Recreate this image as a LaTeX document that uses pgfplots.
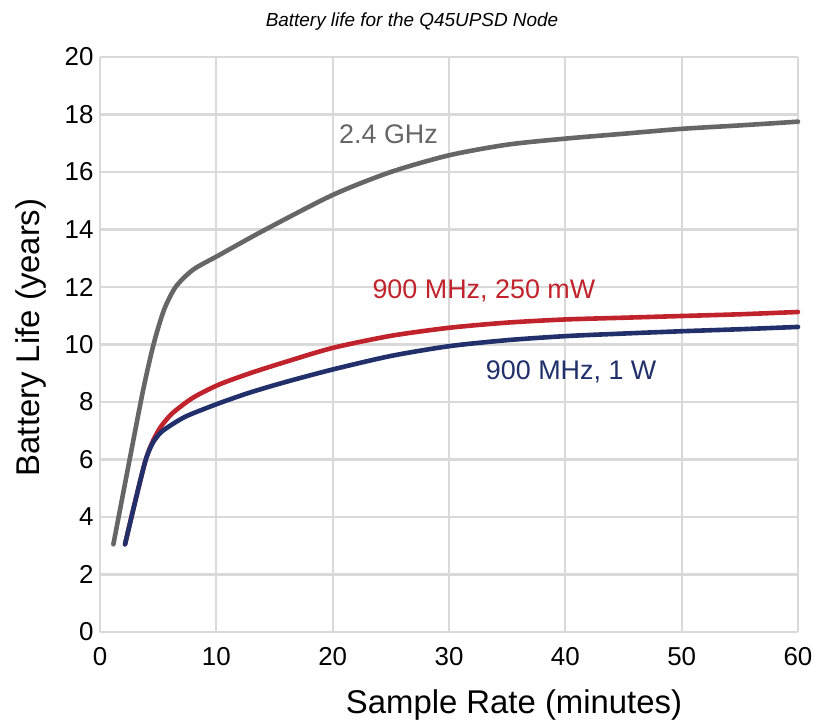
\documentclass[border=0pt]{standalone}
\usepackage{pgfplots}
\pgfplotsset{compat=1.18}
\usepackage{fontspec}
\setmainfont{Liberation Sans}

\definecolor{gridgray}{HTML}{D9D9D9}
\definecolor{ghz}{HTML}{666666}
\definecolor{mwred}{HTML}{C0232C}
\definecolor{wnavy}{HTML}{21306B}

\begin{document}
\begin{tikzpicture}
\begin{axis}[
	scale only axis,
	width=698bp, height=575bp,
	xmin=0, xmax=60, ymin=0, ymax=20,
	xtick={0,10,...,60}, ytick={0,2,...,20},
	grid=major,
	major grid style={draw=gridgray, line width=2.2bp},
	axis line style={draw=gridgray, line width=2.2bp},
	axis x line*=bottom, axis y line*=left,
	tick style={draw=none},
	ticklabel style={font=\fontsize{26}{30}\selectfont},
	/pgf/number format/assume math mode=true,
	xticklabel style={yshift=-12bp},
	yticklabel style={xshift=-3bp},
	xlabel={Sample Rate (minutes)},
	ylabel={Battery Life (years)},
	xlabel style={font=\fontsize{33}{38}\selectfont, yshift=-17bp, xshift=65bp},
	ylabel style={font=\fontsize{33}{38}\selectfont, yshift=12bp, xshift=7bp},
	title={\itshape Battery life for the Q45UPSD Node},
	title style={font=\fontsize{19}{22}\selectfont, yshift=17bp, xshift=-37bp},
	clip=false,
	every axis plot/.append style={line width=4.6bp, smooth, tension=0.45, line cap=round},
]

% 2.4 GHz
\addplot[color=ghz] coordinates {
(1.15,3.05) (2.5,5.9) (3.7,8.4) (4.6,10.0) (5.5,11.2) (6.5,12.0) (8,12.6)
(10.2,13.1) (14,13.95) (20,15.2) (25,16.0) (30,16.58) (35,16.95) (40,17.16)
(45,17.33) (50,17.5) (55,17.62) (60,17.75)
};

% 900 MHz, 250 mW
\addplot[color=mwred] coordinates {
(2.15,3.05) (3.0,4.5) (3.9,5.95) (4.5,6.6) (5.2,7.12) (6.2,7.6) (8,8.15)
(10.2,8.6) (12.9,9.0) (16,9.4) (20,9.88) (25,10.3) (30,10.58) (35,10.76)
(40,10.87) (45,10.93) (50,10.99) (55,11.05) (60,11.13)
};

% 900 MHz, 1 W
\addplot[color=wnavy] coordinates {
(2.15,3.05) (3.0,4.5) (3.9,5.95) (4.5,6.55) (5.2,6.93) (6.2,7.22) (7.5,7.52)
(10.2,7.95) (12.9,8.33) (16,8.7) (20,9.13) (25,9.6) (30,9.94) (35,10.15)
(40,10.29) (45,10.38) (50,10.46) (55,10.53) (60,10.61)
};

\node[text=ghz, font=\fontsize{27}{30}\selectfont] at (axis cs:24.8,17.3) {2.4 GHz};
\node[text=mwred, font=\fontsize{27}{30}\selectfont] at (axis cs:33.0,11.85) {900 MHz, 250 mW};
\node[text=wnavy, font=\fontsize{27}{30}\selectfont] at (axis cs:40.5,9.05) {900 MHz, 1 W};

\path (rel axis cs:-0.1433,-0.1583) rectangle (rel axis cs:1.0258,1.0991);
\end{axis}
\end{tikzpicture}
\end{document}
